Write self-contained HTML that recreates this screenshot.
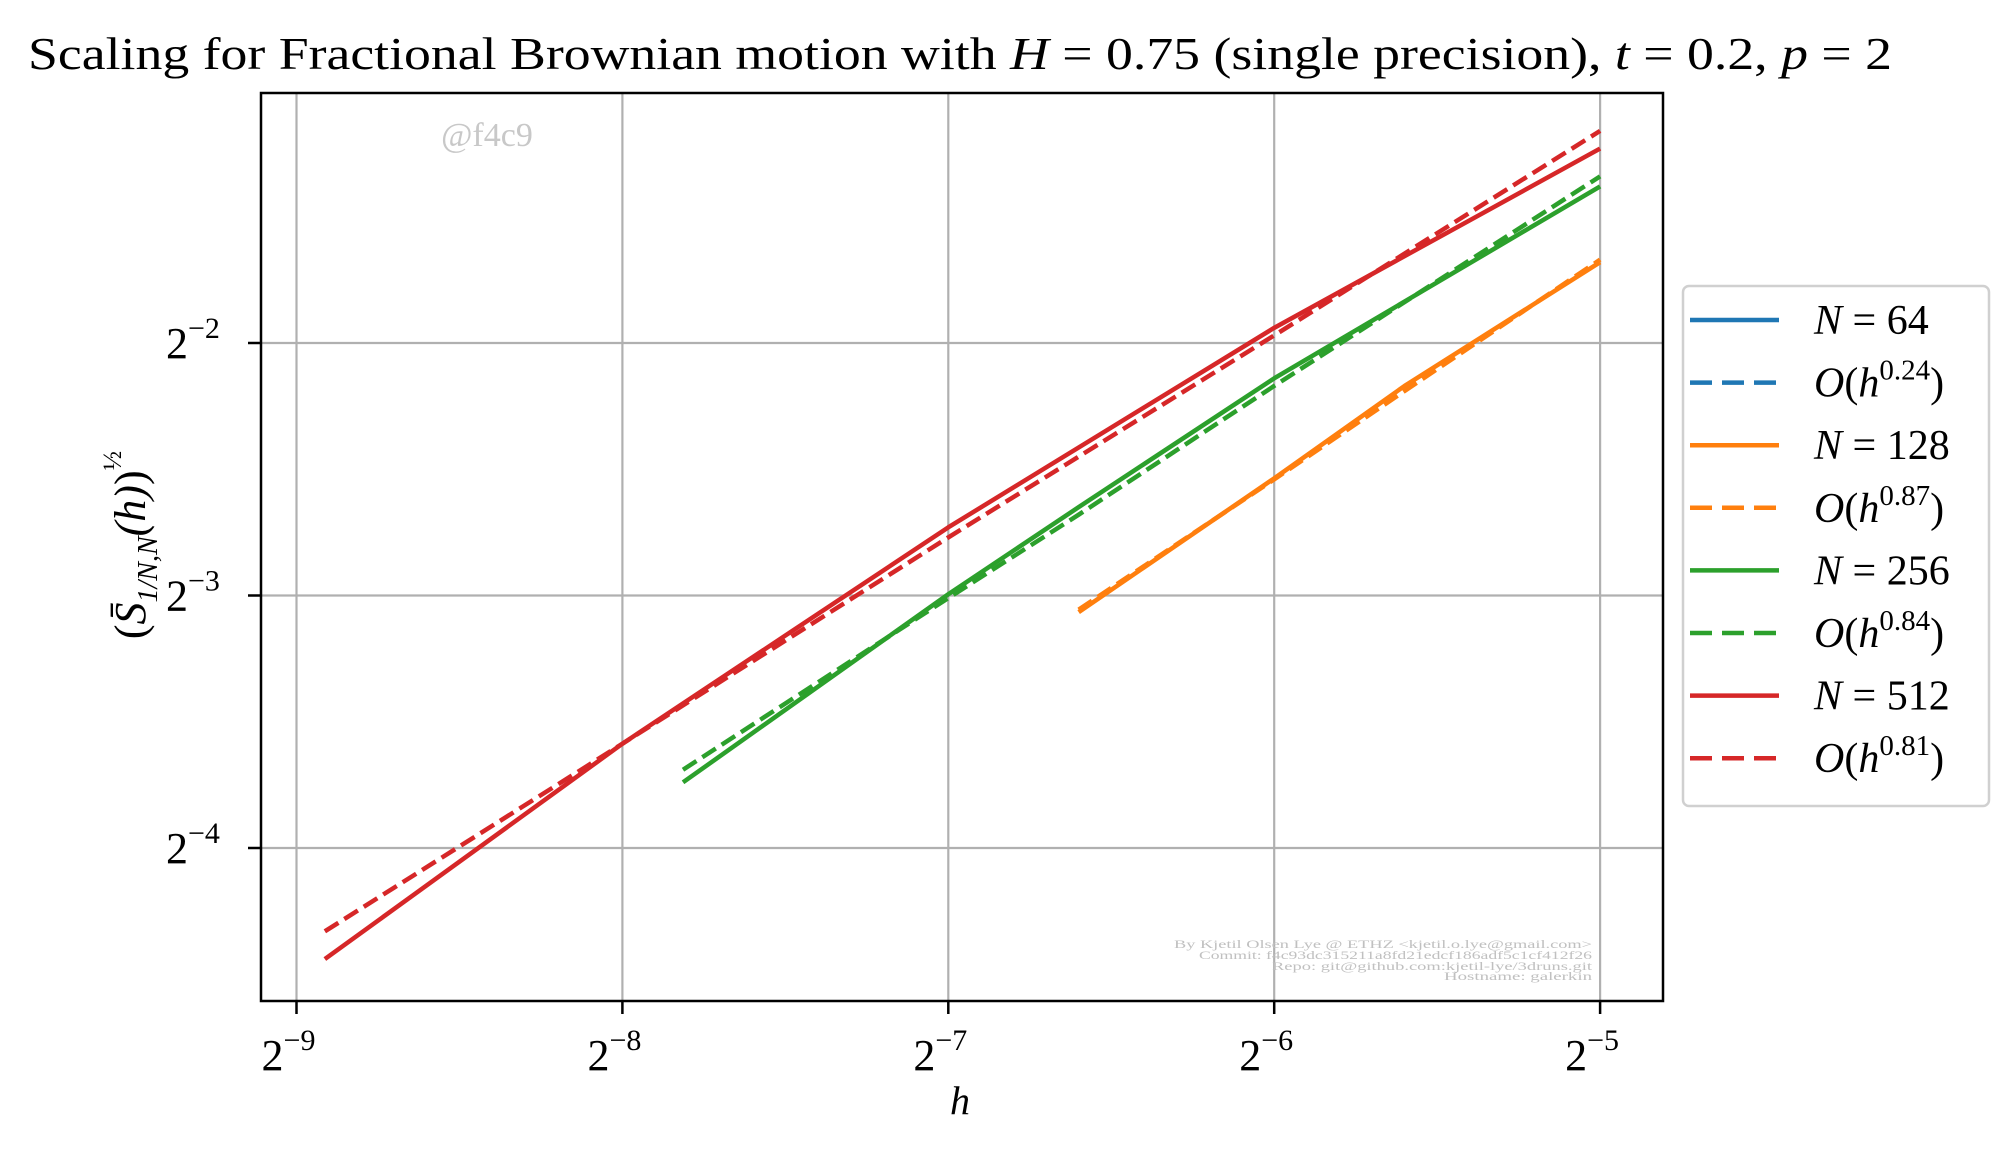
<!DOCTYPE html>
<html><head><meta charset="utf-8"><style>
body{margin:0;background:#fff}
svg text{font-family:"Liberation Serif",serif}
</style></head><body>
<svg width="2011" height="1147" viewBox="0 0 2011 1147" xmlns="http://www.w3.org/2000/svg">
<rect width="2011" height="1147" fill="#fff"/>
<g id="grid"></g>
<g id="plot"></g>
<rect x="261" y="93" width="1402" height="908" fill="none" stroke="#000" stroke-width="2.5"/>
<g id="ticks"></g>
<text x="28" y="69" font-size="46" textLength="1864" lengthAdjust="spacingAndGlyphs">Scaling for Fractional Brownian motion with <tspan font-style="italic">H</tspan> = 0.75 (single precision), <tspan font-style="italic">t</tspan> = 0.2, <tspan font-style="italic">p</tspan> = 2</text>
<text x="960" y="1114" font-size="40" font-style="italic" text-anchor="middle">h</text>
<text transform="translate(145,545) rotate(-90)" font-size="44" text-anchor="middle">(<tspan font-style="italic">S̄</tspan><tspan font-size="28" dy="12" font-style="italic">1/N,N</tspan><tspan dy="-12" font-style="italic">(h)</tspan>)<tspan font-size="26" dy="-24">½</tspan></text>
<text x="487" y="146" font-size="34" fill="#c8c8c8" text-anchor="middle">@f4c9</text>
<g font-size="12" fill="#c0c0c0" text-anchor="end">
<text x="1592" y="948" textLength="418" lengthAdjust="spacingAndGlyphs">By Kjetil Olsen Lye @ ETHZ &lt;kjetil.o.lye@gmail.com&gt;</text>
<text x="1592" y="959" textLength="393" lengthAdjust="spacingAndGlyphs">Commit: f4c93dc315211a8fd21edcf186adf5c1cf412f26</text>
<text x="1592" y="970" textLength="320" lengthAdjust="spacingAndGlyphs">Repo: git@github.com:kjetil-lye/3druns.git</text>
<text x="1592" y="980" textLength="148" lengthAdjust="spacingAndGlyphs">Hostname: galerkin</text>
</g>
<g id="legend"></g>
</svg>
<script>
const xTicks=[-9,-8,-7,-6,-5];
const yTicks=[-2,-3,-4];
const redX=[-8.913,-8,-7,-6,-5];
const redY=[-4.44,-3.587,-2.73,-1.94,-1.23];
const redDashY=[-4.33,-3.587,-2.77,-1.97,-1.16];
const greenX=[-7.814,-7,-6.6,-6,-5];
const greenY=[-3.74,-2.995,-2.65,-2.14,-1.38];
const greenDashY=[-3.69,-3.01,-2.68,-2.17,-1.34];
const orangeX=[-6.6,-6,-5.6,-5];
const orangeY=[-3.066,-2.536,-2.17,-1.68];
const orangeDashY=[-3.056,-2.54,-2.19,-1.67];
const legendLabels=["N = 64","O(h^0.24)","N = 128","O(h^0.87)","N = 256","O(h^0.84)","N = 512","O(h^0.81)"];
const legendColors=["#1f77b4","#1f77b4","#ff7f0e","#ff7f0e","#2ca02c","#2ca02c","#d62728","#d62728"];

const NS="http://www.w3.org/2000/svg";
function X(v){return 296.5+(v+9)*325.9;}
function Y(v){return 343+(-2-v)*252.5;}
function mk(tag,parent,attrs){const e=document.createElementNS(NS,tag);for(const k in attrs)e.setAttribute(k,attrs[k]);document.getElementById(parent).appendChild(e);return e;}
xTicks.forEach(t=>{
  const g=mk('line','grid',{x1:X(t),x2:X(t),y1:93,y2:1001,stroke:'#b0b0b0','stroke-width':2.2});
  
  
  mk('line','ticks',{x1:X(t),x2:X(t),y1:1001,y2:1014,stroke:'#000','stroke-width':2.5});
  const tx=mk('text','ticks',{x:X(t)-8,y:1070,'font-size':44,'text-anchor':'middle'});
  tx.innerHTML='2<tspan font-size="30" dy="-20">−'+(-t)+'</tspan>';
  
  
});
yTicks.forEach(t=>{
  const g=mk('line','grid',{x1:261,x2:1663,y1:Y(t),y2:Y(t),stroke:'#b0b0b0','stroke-width':2.2});
  
  
  mk('line','ticks',{x1:248,x2:261,y1:Y(t),y2:Y(t),stroke:'#000','stroke-width':2.5});
  const tx=mk('text','ticks',{x:166,y:Y(t)+15,'font-size':44});
  tx.innerHTML='2<tspan font-size="30" dy="-20">−'+(-t)+'</tspan>';
  
  
});
function line(xs,ys,color,dash,name){
  const p=mk('polyline','plot',{points:xs.map((x,i)=>X(x)+','+Y(ys[i])).join(' '),fill:'none',stroke:color,'stroke-width':4.5,'stroke-linejoin':'round'});
  if(dash)p.setAttribute('stroke-dasharray','16 7');
  
  
}
line(orangeX,orangeY,'#ff7f0e',false,'series-n128');
line(orangeX,orangeDashY,'#ff7f0e',true,'fit-n128');
line(greenX,greenY,'#2ca02c',false,'series-n256');
line(greenX,greenDashY,'#2ca02c',true,'fit-n256');
line(redX,redY,'#d62728',false,'series-n512');
line(redX,redDashY,'#d62728',true,'fit-n512');
mk('rect','legend',{x:1683,y:286,width:306,height:520,rx:6,fill:'#fff',stroke:'#d0d0d0','stroke-width':2.5});
legendLabels.forEach((l,i)=>{
  const y=320+i*62.6;
  const ln=mk('line','legend',{x1:1690,x2:1779,y1:y,y2:y,stroke:legendColors[i],'stroke-width':4.5});
  if(i%2)ln.setAttribute('stroke-dasharray','22 10');
  const t=mk('text','legend',{x:1814,y:y+14,'font-size':42});
  if(i%2){const e=l.split('^')[1].replace(')','');t.innerHTML='<tspan font-style="italic">O</tspan>(<tspan font-style="italic">h</tspan><tspan font-size="29" dy="-17">'+e+'</tspan><tspan dy="17">)</tspan>';}
  else{t.innerHTML='<tspan font-style="italic">N</tspan> = '+l.split('= ')[1];}
  
  
});
</script>
</body></html>
